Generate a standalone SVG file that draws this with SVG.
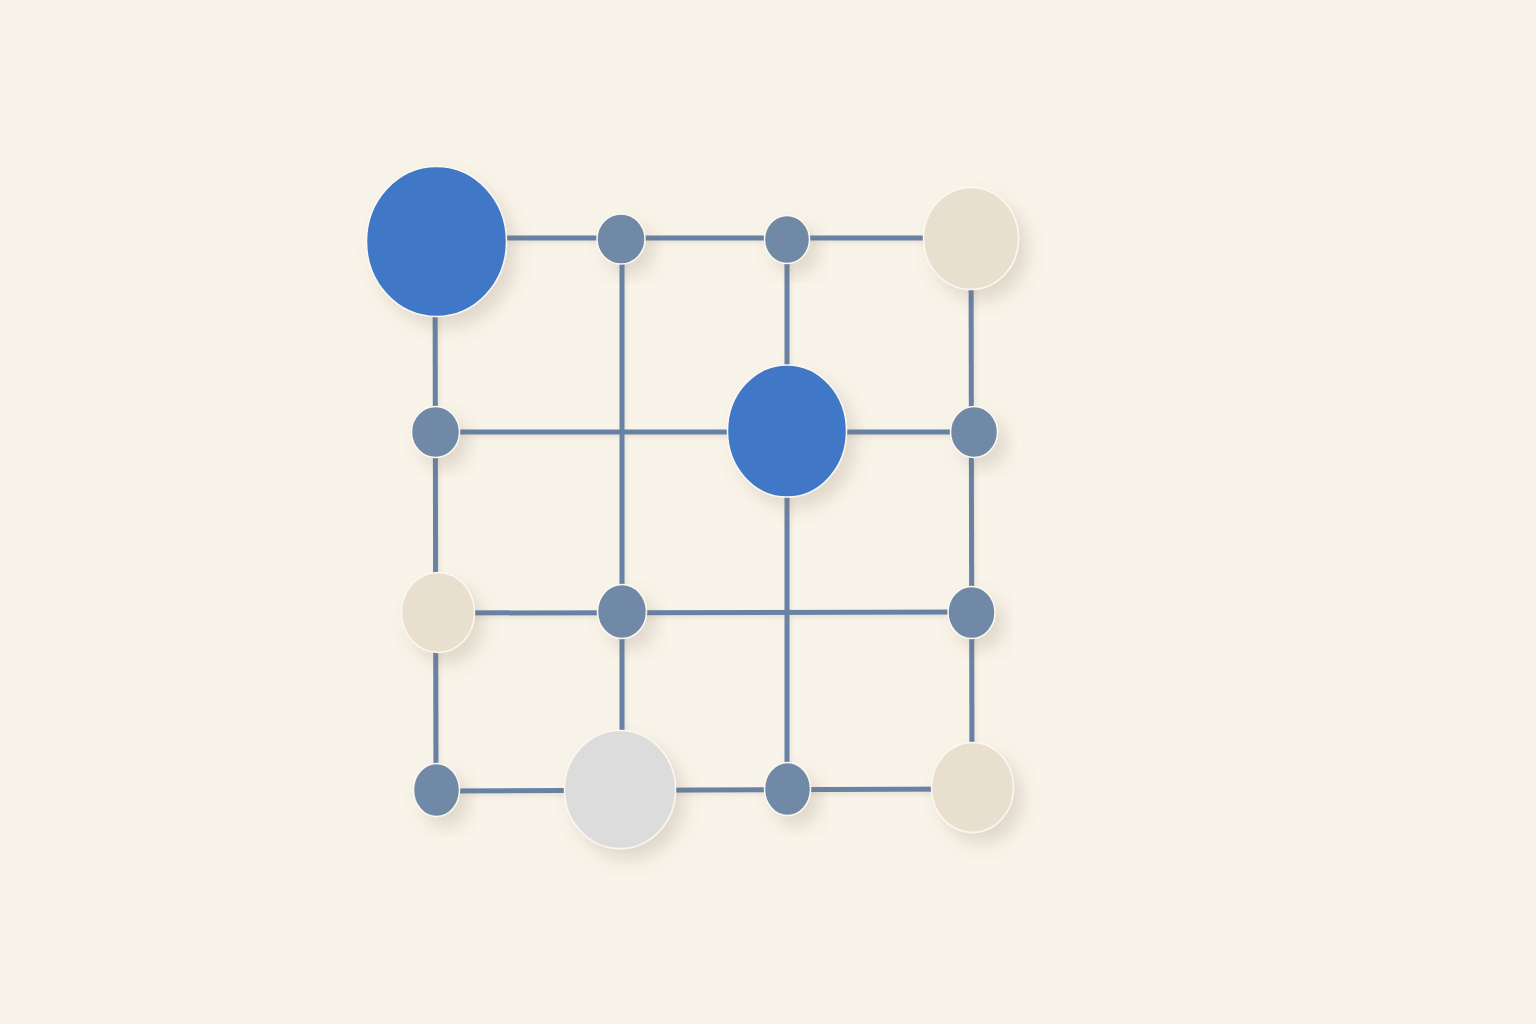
<svg xmlns="http://www.w3.org/2000/svg" width="1536" height="1024" viewBox="0 0 1536 1024">
  <defs>
    <filter id="shadow" x="-40%" y="-40%" width="180%" height="180%">
      <feDropShadow dx="9" dy="11" stdDeviation="9" flood-color="#7a6a50" flood-opacity="0.2"/>
    </filter>
    <filter id="lshadow" x="-10%" y="-10%" width="120%" height="120%">
      <feDropShadow dx="2" dy="3" stdDeviation="2" flood-color="#7a6a50" flood-opacity="0.12"/>
    </filter>
    <style>
      .edge { stroke: #6882a5; stroke-width: 5; fill: none; stroke-linecap: butt; }
      .node { stroke: #fcf8f0; stroke-width: 1.5; filter: url(#shadow); }
      .blue { fill: #3f77c7; }
      .gray { fill: #7089a7; }
      .beige { fill: #e9dfcf; }
      .light { fill: #dcdcdc; }
    </style>
  </defs>
  <rect width="1536" height="1024" fill="#f9f4ea"/>
  <g id="connectors" filter="url(#lshadow)">
    <line class="edge" x1="436" y1="238" x2="971" y2="238"/>
    <line class="edge" x1="436" y1="432" x2="973" y2="432"/>
    <line class="edge" x1="437" y1="613" x2="971" y2="612"/>
    <line class="edge" x1="436" y1="791" x2="972" y2="789"/>
    <line class="edge" x1="435" y1="241" x2="436" y2="790"/>
    <line class="edge" x1="622" y1="239" x2="622" y2="789"/>
    <line class="edge" x1="787" y1="239" x2="787" y2="789"/>
    <line class="edge" x1="971" y1="238" x2="972" y2="787"/>
  </g>
  <g id="n11"><ellipse class="node blue" cx="436.5" cy="241.5" rx="70" ry="75"/></g>
  <g id="n12"><ellipse class="node gray" cx="621" cy="239" rx="24" ry="25"/></g>
  <g id="n13"><ellipse class="node gray" cx="787" cy="239.5" rx="22.5" ry="24"/></g>
  <g id="n14"><ellipse class="node beige" cx="971" cy="238.5" rx="47.5" ry="51"/></g>
  <g id="n21"><ellipse class="node gray" cx="435.5" cy="432" rx="24" ry="25.5"/></g>
  <g id="n23"><ellipse class="node blue" cx="787" cy="431" rx="59.5" ry="66"/></g>
  <g id="n24"><ellipse class="node gray" cx="974" cy="432" rx="23.5" ry="25.5"/></g>
  <g id="n31"><ellipse class="node beige" cx="438" cy="612.5" rx="36.5" ry="40"/></g>
  <g id="n32"><ellipse class="node gray" cx="622" cy="611.5" rx="24.5" ry="27"/></g>
  <g id="n34"><ellipse class="node gray" cx="971.5" cy="612.5" rx="23.5" ry="26"/></g>
  <g id="n41"><ellipse class="node gray" cx="436.5" cy="790" rx="23" ry="26.5"/></g>
  <g id="n42"><ellipse class="node light" cx="620" cy="789.5" rx="55.5" ry="59"/></g>
  <g id="n43"><ellipse class="node gray" cx="787.5" cy="789" rx="23" ry="26.5"/></g>
  <g id="n44"><ellipse class="node beige" cx="972.5" cy="787.5" rx="41" ry="45"/></g>
</svg>
